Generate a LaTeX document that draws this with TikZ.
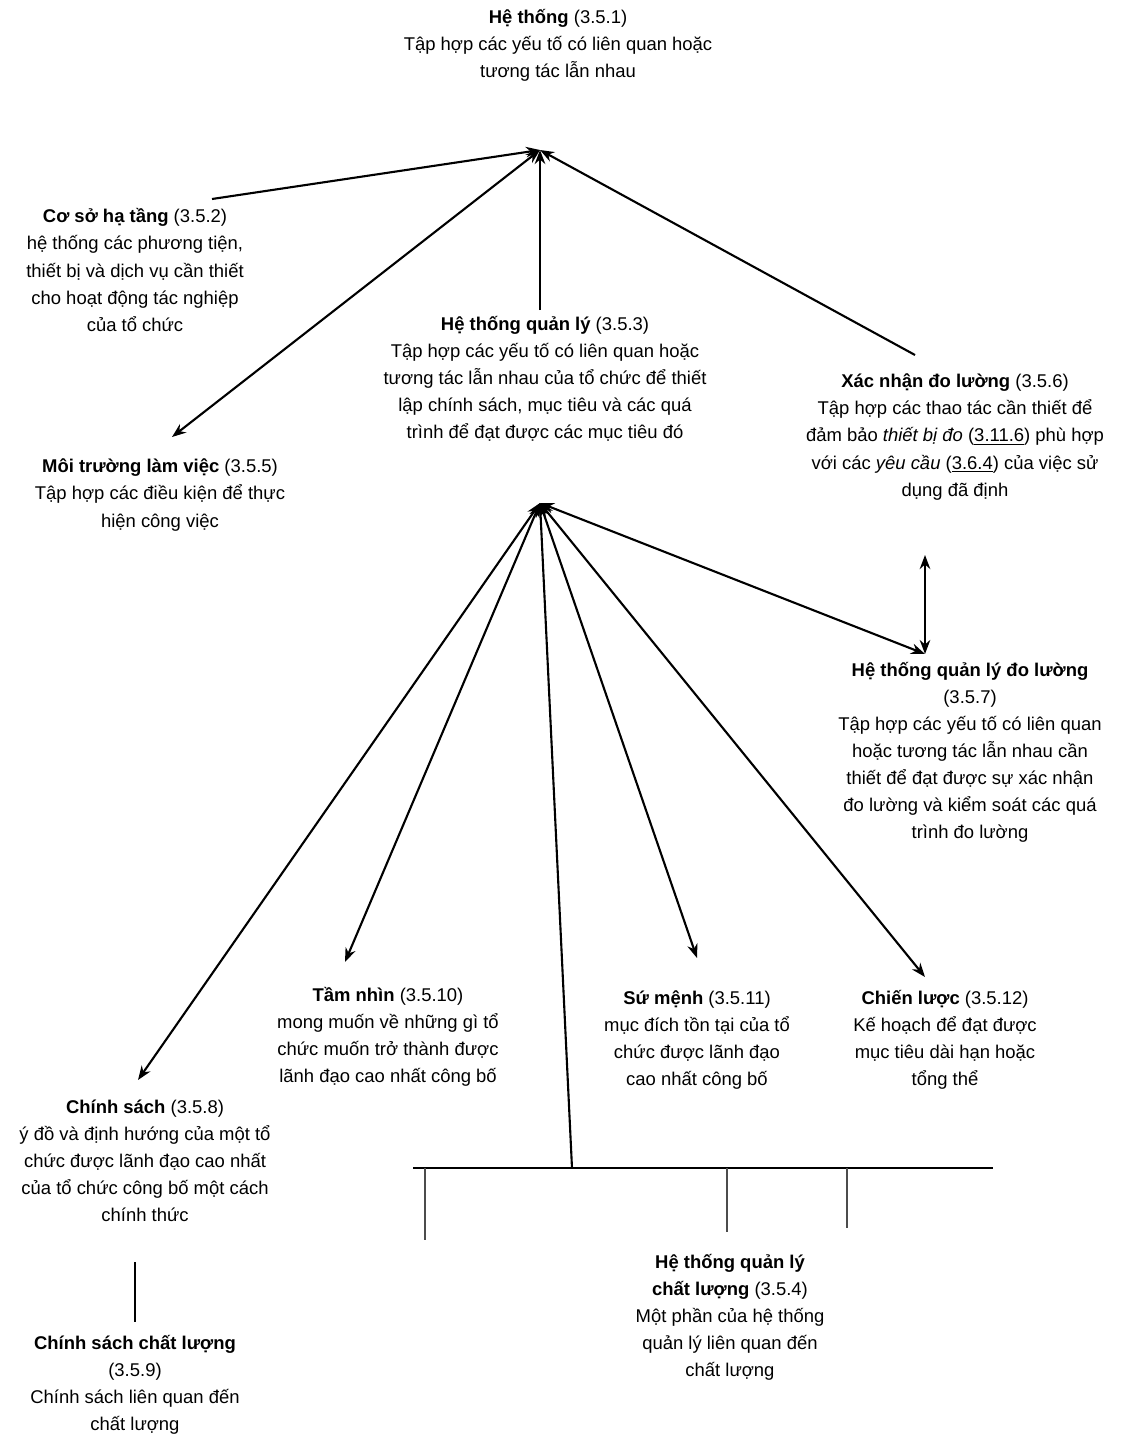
\documentclass[tikz,border=0pt]{standalone}
\usepackage{fontspec}
\setmainfont{Liberation Sans}
\usepackage{tikz}
\usetikzlibrary{arrows.meta}
\tikzstyle{arrow} = [line width=1.2pt,-{Stealth[length=8pt,width=6pt]}]
\tikzstyle{darrow} = [line width=1.2pt,{Stealth[length=8pt,width=6pt]}-{Stealth[length=8pt,width=6pt]}]
\tikzstyle{plain} = [line width=1.2pt]
\tikzstyle{thin} = [line width=0.6pt,black!70]
\tikzstyle{term} = [align=center,inner sep=0pt,font=\fontsize{10.5}{15.4}\selectfont]

\begin{document}
\begin{tikzpicture}[x=0.02cm,y=-0.02cm]
\useasboundingbox (0,0) rectangle (1126,1437);

% text blocks
\node[term] (ht) at (558,45) {\textbf{Hệ thống} (3.5.1)\\Tập hợp các yếu tố có liên quan hoặc\\tương tác lẫn nhau};
\node[term] (csht) at (135,270) {\textbf{Cơ sở hạ tầng} (3.5.2)\\hệ thống các phương tiện,\\thiết bị và dịch vụ cần thiết\\cho hoạt động tác nghiệp\\của tổ chức};
\node[term] (htql) at (545,379) {\textbf{Hệ thống quản lý} (3.5.3)\\Tập hợp các yếu tố có liên quan hoặc\\tương tác lẫn nhau của tổ chức để thiết\\lập chính sách, mục tiêu và các quá\\trình để đạt được các mục tiêu đó};
\node[term] (xndl) at (955,437) {\textbf{Xác nhận đo lường} (3.5.6)\\Tập hợp các thao tác cần thiết để\\đảm bảo \textit{thiết bị đo} (\underline{3.11.6}) phù hợp\\với các \textit{yêu cầu} (\underline{3.6.4}) của việc sử\\dụng đã định};
\node[term] (mtlv) at (160,495) {\textbf{Môi trường làm việc} (3.5.5)\\Tập hợp các điều kiện để thực\\hiện công việc};
\node[term] (htqldl) at (970,752) {\textbf{Hệ thống quản lý đo lường}\\(3.5.7)\\Tập hợp các yếu tố có liên quan\\hoặc tương tác lẫn nhau cần\\thiết để đạt được sự xác nhận\\đo lường và kiểm soát các quá\\trình đo lường};
\node[term] (tn) at (388,1037) {\textbf{Tầm nhìn} (3.5.10)\\mong muốn về những gì tổ\\chức muốn trở thành được\\lãnh đạo cao nhất công bố};
\node[term] (sm) at (697,1040) {\textbf{Sứ mệnh} (3.5.11)\\mục đích tồn tại của tổ\\chức được lãnh đạo\\cao nhất công bố};
\node[term] (cl) at (945,1040) {\textbf{Chiến lược} (3.5.12)\\Kế hoạch để đạt được\\mục tiêu dài hạn hoặc\\tổng thể};
\node[term] (cs) at (145,1161) {\textbf{Chính sách} (3.5.8)\\ý đồ và định hướng của một tổ\\chức được lãnh đạo cao nhất\\của tổ chức công bố một cách\\chính thức};
\node[term] (htqlcl) at (730,1317) {\textbf{Hệ thống quản lý}\\\textbf{chất lượng} (3.5.4)\\Một phần của hệ thống\\quản lý liên quan đến\\chất lượng};
\node[term] (cscl) at (135,1385) {\textbf{Chính sách chất lượng}\\(3.5.9)\\Chính sách liên quan đến\\chất lượng};

% hubs and line ends
\coordinate (top) at (540,150);
\coordinate (mid) at (540,503);
\coordinate (csht-e) at (212,199);
\coordinate (mtlv-e) at (172,437);
\coordinate (htql-e) at (540,310);
\coordinate (xndl-e) at (915,355);
\coordinate (xndl-s) at (925,555);
\coordinate (htqldl-e) at (925,654);
\coordinate (tn-e) at (345,962);
\coordinate (sm-e) at (697,958);
\coordinate (cl-e) at (925,977);
\coordinate (cs-e) at (138,1080);
\coordinate (bar) at (572,1168);
\coordinate (bar-l) at (413,1168);
\coordinate (bar-r) at (993,1168);
\coordinate (cs-s) at (135,1262);
\coordinate (cscl-n) at (135,1322);

% to Hệ thống
\draw[arrow] (csht-e) -- (top);
\draw[darrow] (mtlv-e) -- (top);
\draw[arrow] (htql-e) -- (top);
\draw[arrow] (xndl-e) -- (top);

% from Hệ thống quản lý
\draw[darrow] (mid) -- (cs-e);
\draw[darrow] (mid) -- (tn-e);
\draw[arrow] (bar) -- (mid);
\draw[darrow] (mid) -- (sm-e);
\draw[darrow] (mid) -- (cl-e);
\draw[darrow] (mid) -- (htqldl-e);
\draw[darrow] (xndl-s) -- (htqldl-e);

% quality branch
\draw[plain] (bar-l) -- (bar-r);
\draw[thin] (425,1168) -- (425,1240);
\draw[thin] (727,1168) -- (727,1232);
\draw[thin] (847,1168) -- (847,1228);
\draw[plain] (cs-s) -- (cscl-n);

\end{tikzpicture}
\end{document}
